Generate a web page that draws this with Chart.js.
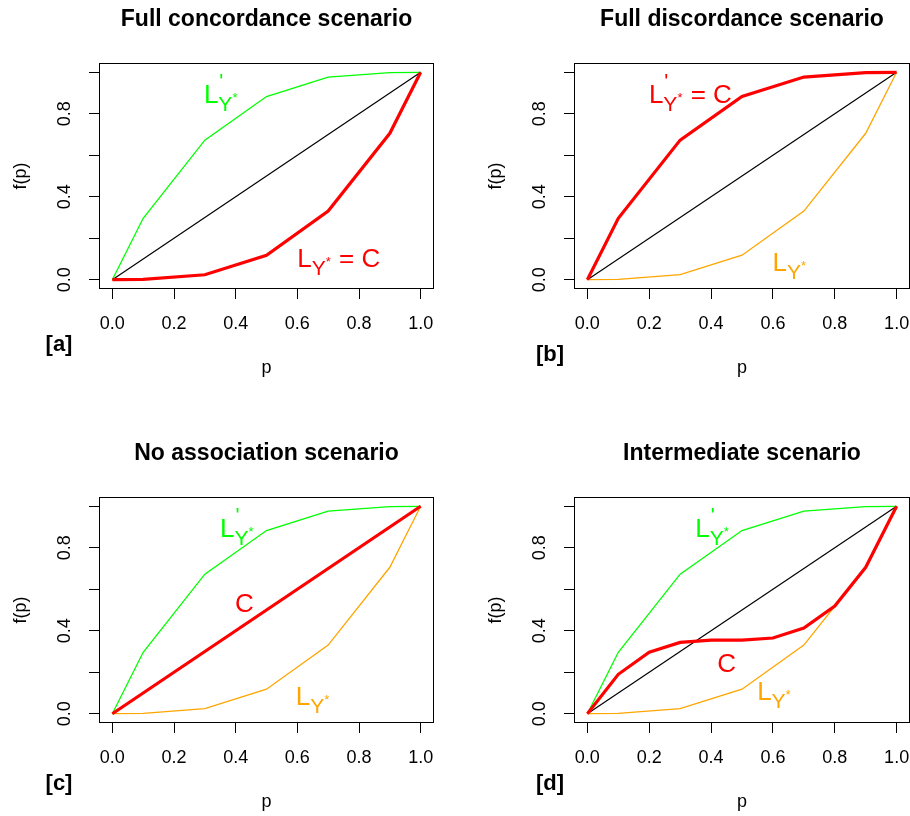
<!DOCTYPE html>
<html>
<head>
<meta charset="utf-8">
<script src="https://cdn.jsdelivr.net/npm/chart.js@4.4.0/dist/chart.umd.min.js"></script>
<style>
  body { margin: 0; background: #fff; width: 910px; height: 816px; overflow: hidden; position: relative; }
  canvas { position: absolute; }
</style>
</head>
<body>
<canvas id="panel-a" width="455" height="382" style="left:0;top:0"></canvas>
<canvas id="panel-b" width="455" height="382" style="left:455px;top:0"></canvas>
<canvas id="panel-c" width="455" height="382" style="left:0;top:434px"></canvas>
<canvas id="panel-d" width="455" height="382" style="left:455px;top:434px"></canvas>
<script>
// p values where the Lorenz-type curves were evaluated
const pValues = [0, 0.1, 0.3, 0.5, 0.7, 0.9, 1.0];
const lorenzY = [0, 0.002, 0.024, 0.118, 0.331, 0.706, 1];
const lorenzPrimeY = [0, 0.296, 0.673, 0.883, 0.977, 0.998, 1];

// equality line
const diagP = [0, 1];
const diagY = [0, 1];

// intermediate copula curve (panel d)
const interP = [0, 0.1, 0.2, 0.3, 0.4, 0.5, 0.6, 0.7, 0.8, 0.9, 1.0];
const interC = [0, 0.19, 0.297, 0.344, 0.355, 0.355, 0.365, 0.413, 0.519, 0.706, 1];

const xTicks = [0, 0.2, 0.4, 0.6, 0.8, 1.0];
const yTicks = [0, 0.2, 0.4, 0.6, 0.8, 1.0];
const xTickLabels = ['0.0', '0.2', '0.4', '0.6', '0.8', '1.0'];
const yTickLabels = ['0.0', '', '0.4', '', '0.8', ''];

const panelTitles = ['Full concordance scenario', 'Full discordance scenario', 'No association scenario', 'Intermediate scenario'];
const panelTags = ['[a]', '[b]', '[c]', '[d]'];

const FONT = '"Liberation Sans", Arial, Helvetica, sans-serif';
const GREEN = '#00ff00', RED = '#ff0000', ORANGE = '#ffa500';

function pts(xs, ys) {
    return xs.map((x, i) => ({ x: x, y: ys[i] }));
}

function line(xs, ys, color, width) {
    return { data: pts(xs, ys), borderColor: color, borderWidth: width, pointRadius: 0, tension: 0, fill: false };
}

// draws L with optional prime, subscript Y*, then the rest of the text
function drawMathLabel(chart, lab) {
    const ctx = chart.ctx;
    const x0 = chart.scales.x.getPixelForValue(lab.x);
    const y0 = chart.scales.y.getPixelForValue(lab.y);
    ctx.save();
    ctx.fillStyle = lab.color;
    ctx.textAlign = 'left';
    ctx.textBaseline = 'alphabetic';
    ctx.font = '26px ' + FONT;
    ctx.fillText(lab.main, x0, y0);
    let cx = x0 + ctx.measureText(lab.main).width;
    if (lab.sub) {
        ctx.font = '21px ' + FONT;
        if (lab.prime) ctx.fillText("'", cx + 1, y0 - 15);
        ctx.fillText(lab.sub, cx, y0 + 8);
        const w = ctx.measureText(lab.sub).width;
        ctx.font = '13px ' + FONT;
        ctx.fillText('*', cx + w, y0 - 1);
        cx += w + ctx.measureText('*').width;
    }
    if (lab.rest) {
        ctx.font = '26px ' + FONT;
        ctx.fillText(lab.rest, cx + 1, y0);
    }
    ctx.restore();
}

const panelDecor = {
    id: 'panelDecor',
    afterDatasetsDraw(chart, args, opts) {
        (opts.labels || []).forEach(lab => drawMathLabel(chart, lab));
    },
    afterDraw(chart, args, opts) {
        const ctx = chart.ctx;
        const a = chart.chartArea;
        ctx.save();
        ctx.strokeStyle = '#000';
        ctx.lineWidth = 1;
        ctx.strokeRect(Math.round(a.left) - 0.5, Math.round(a.top) - 0.5, Math.round(a.right - a.left) + 1, Math.round(a.bottom - a.top) + 1);

        ctx.fillStyle = '#000';
        ctx.textAlign = 'center';
        ctx.textBaseline = 'alphabetic';
        ctx.font = 'bold 23px ' + FONT;
        ctx.fillText(opts.title, (a.left + a.right) / 2, 26);

        ctx.font = 'bold 22px ' + FONT;
        ctx.textBaseline = 'middle';
        ctx.fillText(opts.tag, opts.tagX, opts.tagY);
        ctx.restore();
    }
};

function makePanel(id, datasets, padLeft, padRight, decor) {
    const axisFont = { size: 18, family: FONT };
    const grid = { drawOnChartArea: false, drawTicks: true, tickLength: 11, color: '#000', tickColor: '#000', lineWidth: 1 };
    // listed bottom to top; Chart.js draws lower `order` on top
    datasets.forEach((ds, i) => { ds.order = datasets.length - i; });
    new Chart(document.getElementById(id), {
        type: 'line',
        data: { datasets: datasets },
        plugins: [panelDecor],
        options: {
            responsive: false,
            animation: false,
            devicePixelRatio: 1,
            layout: { padding: { left: padLeft, right: padRight, top: 64, bottom: 3 } },
            plugins: {
                legend: { display: false },
                tooltip: { enabled: false },
                panelDecor: decor
            },
            scales: {
                x: {
                    type: 'linear',
                    min: -0.04,
                    max: 1.04,
                    afterBuildTicks: s => { s.ticks = xTicks.map(v => ({ value: v })); },
                    afterFit: s => { s.height = 91; s.paddingLeft = 0; s.paddingRight = 0; },
                    grid: grid,
                    border: { display: false },
                    ticks: {
                        autoSkip: false, minRotation: 0, maxRotation: 0, padding: 14,
                        color: '#000', font: axisFont,
                        callback: (v, i) => xTickLabels[i]
                    },
                    title: { display: true, text: 'p', color: '#000', font: axisFont, padding: { top: 0, bottom: 0 } }
                },
                y: {
                    type: 'linear',
                    min: -0.04,
                    max: 1.04,
                    afterBuildTicks: s => { s.ticks = yTicks.map(v => ({ value: v })); },
                    afterFit: s => { s.width = 100; s.paddingTop = 0; s.paddingBottom = 0; },
                    grid: grid,
                    border: { display: false },
                    ticks: {
                        autoSkip: false, minRotation: 90, maxRotation: 90, crossAlign: 'center', padding: 11,
                        color: '#000', font: axisFont,
                        callback: (v, i) => yTickLabels[i]
                    },
                    title: { display: true, text: 'f(p)', color: '#000', font: axisFont, padding: { top: 10.5, bottom: 0 } }
                }
            }
        }
    });
}

// [a] full concordance
makePanel('panel-a', [
    line(diagP, diagY, '#000', 1.2),
    line(pValues, lorenzPrimeY, GREEN, 1.3),
    line(pValues, lorenzY, RED, 3.2)
], 0, 22, {
    title: panelTitles[0], tag: panelTags[0], tagX: 59, tagY: 345,
    labels: [
        { x: 0.297, y: 0.854, color: GREEN, main: 'L', prime: true, sub: 'Y' },
        { x: 0.60, y: 0.06, color: RED, main: 'L', sub: 'Y', rest: ' = C' }
    ]
});

// [b] full discordance
makePanel('panel-b', [
    line(diagP, diagY, '#000', 1.2),
    line(pValues, lorenzY, ORANGE, 1.3),
    line(pValues, lorenzPrimeY, RED, 3.2)
], 20, 1, {
    title: panelTitles[1], tag: panelTags[1], tagX: 95, tagY: 355,
    labels: [
        { x: 0.199, y: 0.854, color: RED, main: 'L', prime: true, sub: 'Y', rest: ' = C' },
        { x: 0.599, y: 0.044, color: ORANGE, main: 'L', sub: 'Y' }
    ]
});

// [c] no association
makePanel('panel-c', [
    line(diagP, diagY, '#000', 1.2),
    line(pValues, lorenzPrimeY, GREEN, 1.3),
    line(pValues, lorenzY, ORANGE, 1.3),
    line(diagP, diagY, RED, 3.2)
], 0, 22, {
    title: panelTitles[2], tag: panelTags[2], tagX: 59, tagY: 350,
    labels: [
        { x: 0.349, y: 0.853, color: GREEN, main: 'L', prime: true, sub: 'Y' },
        { x: 0.398, y: 0.49, color: RED, main: 'C' },
        { x: 0.595, y: 0.044, color: ORANGE, main: 'L', sub: 'Y' }
    ]
});

// [d] intermediate
makePanel('panel-d', [
    line(diagP, diagY, '#000', 1.2),
    line(pValues, lorenzPrimeY, GREEN, 1.3),
    line(pValues, lorenzY, ORANGE, 1.3),
    line(interP, interC, RED, 3.2)
], 20, 1, {
    title: panelTitles[3], tag: panelTags[3], tagX: 95, tagY: 350,
    labels: [
        { x: 0.349, y: 0.853, color: GREEN, main: 'L', prime: true, sub: 'Y' },
        { x: 0.42, y: 0.20, color: RED, main: 'C' },
        { x: 0.549, y: 0.066, color: ORANGE, main: 'L', sub: 'Y' }
    ]
});
</script>
</body>
</html>
